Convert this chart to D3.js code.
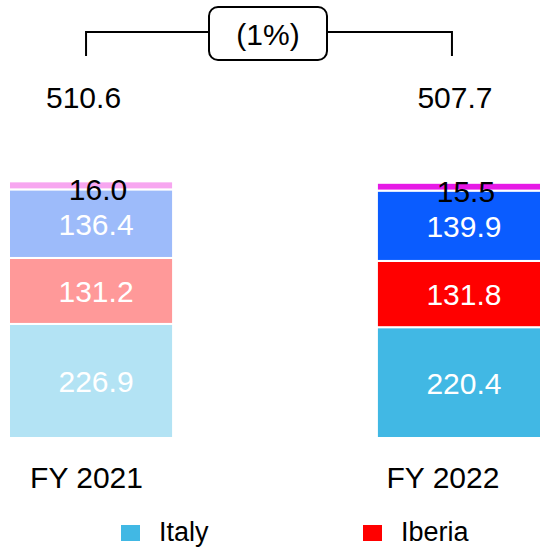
<!DOCTYPE html>
<html><head><meta charset="utf-8">
<script src="https://cdn.jsdelivr.net/npm/d3@7"></script>
<style>body{margin:0;background:#fff}svg{display:block;font-family:"Liberation Sans",Arial,sans-serif}</style>
</head><body>
<svg id="c" width="541" height="548"></svg>
<script>
const categories = ["FY 2021", "FY 2022"];
const seriesNames = ["Italy", "Iberia", "Other1", "Other2"];
const italy = [226.9, 220.4];
const iberia = [131.2, 131.8];
const other1 = [136.4, 139.9];
const other2 = [16.0, 15.5];
const totals = [510.6, 507.7];
const changeLabel = "(1%)";
const legendNames = ["Italy", "Iberia"];

const colors = {
  "FY 2021": ["#b3e3f4", "#ff9999", "#9dbbfa", "#f7a6f0"],
  "FY 2022": ["#41b8e4", "#ff0000", "#0a5cff", "#e619e6"]
};
const legendColors = ["#41b8e4", "#ff0000"];

const svg = d3.select("#c");
const x = d3.scaleBand().domain(categories).range([9, 541]).paddingInner(0.554).paddingOuter(0);
const y = d3.scaleLinear().domain([0, 510.6]).range([438, 181.3]);

const series = [italy, iberia, other1, other2];
categories.forEach((cat, ci) => {
  let cum = 0;
  const g = svg.append("g");
  series.forEach((s, si) => {
    const v = s[ci];
    const y0 = cum, y1 = cum + v;
    cum = y1;
    g.append("rect")
      .attr("x", x(cat)).attr("width", x.bandwidth())
      .attr("y", y(y1)).attr("height", y(y0) - y(y1))
      .attr("fill", colors[cat][si])
      .attr("stroke", "#fff").attr("stroke-width", 2);
    const cx = x(cat) + x.bandwidth() / 2 + 5;
    const mid = (y(y0) + y(y1)) / 2;
    if (si < 3) {
      g.append("text").attr("x", cx).attr("y", mid + 11)
        .attr("text-anchor", "middle").attr("font-size", 30).attr("fill", "#fff")
        .text(v.toFixed(1));
    } else {
      g.append("text").attr("x", cx + 2).attr("y", mid + 15)
        .attr("text-anchor", "middle").attr("font-size", 30).attr("fill", "#000")
        .text(v.toFixed(1));
    }
  });
});

// totals
const totalDx = [-7.5, -4];
categories.forEach((cat, ci) => {
  svg.append("text")
    .attr("x", x(cat) + x.bandwidth() / 2 + totalDx[ci]).attr("y", 108)
    .attr("text-anchor", "middle").attr("font-size", 30).attr("fill", "#000")
    .text(totals[ci].toFixed(1));
});

// category labels
const catDx = [-4.5, -16];
categories.forEach((cat, ci) => {
  svg.append("text")
    .attr("x", x(cat) + x.bandwidth() / 2 + catDx[ci]).attr("y", 488)
    .attr("text-anchor", "middle").attr("font-size", 30).attr("fill", "#000")
    .text(cat);
});

// bracket
const lx = x(categories[0]) + x.bandwidth() / 2 - 5;
const rx = x(categories[1]) + x.bandwidth() / 2 - 7;
const boxL = 209, boxR = 327;
svg.append("path")
  .attr("d", `M${lx},56V32H${boxL}M${boxR},32H${rx}V56`)
  .attr("fill", "none").attr("stroke", "#000").attr("stroke-width", 2);
svg.append("rect").attr("x", boxL).attr("y", 7).attr("width", boxR - boxL).attr("height", 53)
  .attr("rx", 9).attr("fill", "#fff").attr("stroke", "#000").attr("stroke-width", 2);
svg.append("text").attr("x", (boxL + boxR) / 2).attr("y", 45)
  .attr("text-anchor", "middle").attr("font-size", 30).attr("fill", "#000").text(changeLabel);

// legend
const legX = [121, 363];
legendNames.forEach((n, i) => {
  svg.append("rect").attr("x", legX[i]).attr("y", 525).attr("width", 19).attr("height", 16)
    .attr("fill", legendColors[i]);
  svg.append("text").attr("x", legX[i] + 38).attr("y", 541)
    .attr("font-size", 27).attr("fill", "#000").text(n);
});
</script>
</body></html>
